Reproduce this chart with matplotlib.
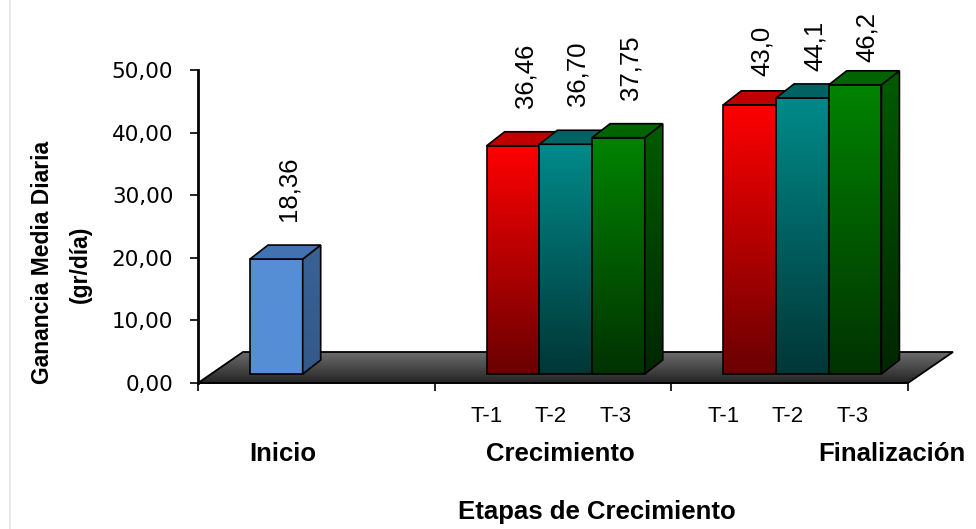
import numpy as np
import matplotlib
matplotlib.use("Agg")
import matplotlib.pyplot as plt
from matplotlib.patches import Polygon
from matplotlib.colors import LinearSegmentedColormap
from matplotlib.lines import Line2D

# ---------------- data ----------------
stages = ["Inicio", "Crecimiento", "Finalización"]
treatments = ["T-1", "T-2", "T-3"]
inicio_values = [18.36]
crecimiento_values = [36.46, 36.70, 37.75]
finalizacion_values = [43.0, 44.1, 46.2]
inicio_labels = ["18,36"]
crecimiento_labels = ["36,46", "36,70", "37,75"]
finalizacion_labels = ["43,0", "44,1", "46,2"]
yticks = [0, 10, 20, 30, 40, 50]
ytick_labels = ["0,00", "10,00", "20,00", "30,00", "40,00", "50,00"]
ylabel_lines = ["Ganancia Media Diaria", "(gr/día)"]
xlabel = "Etapas de Crecimiento"

group_values = [inicio_values, crecimiento_values, finalizacion_values]
group_labels = [inicio_labels, crecimiento_labels, finalizacion_labels]
group_has_ticks = [False, True, True]

# ---------------- style ----------------
plt.rcParams['font.family'] = ['Liberation Sans', 'DejaVu Sans']
W, H, DPI = 976, 529, 100
fig = plt.figure(figsize=(W / DPI, H / DPI), dpi=DPI)
fig.patch.set_facecolor('white')

ax_left, ax_right, ax_bottom, ax_top = 198, 908, 383, 70   # pixel frame
ax = fig.add_axes([ax_left / W, (H - ax_bottom) / H,
                   (ax_right - ax_left) / W, (ax_bottom - ax_top) / H])
ax.set_autoscale_on(False)
ax.set_xlim(0, 3)
ax.set_ylim(0, 50)

px_x = 3 / (ax_right - ax_left)     # data units per pixel in x
px_y = 50 / (ax_bottom - ax_top)    # data units per pixel in y

bar_offset = 52 * px_x
bar_width = 52.7 * px_x
bar_base = 9 * px_y
depth_dx = 18 * px_x
depth_dy = 14 * px_y
floor_dx = 45 * px_x
floor_dy = 31 * px_y

styles = {
    'blue':  dict(front=('#558ED5', '#558ED5'), side=('#3A6294', '#34588A'), top='#4272B0'),
    'red':   dict(front=('#FF0000', '#6A0000'), side=('#B00000', '#400000'), top='#C00000'),
    'teal':  dict(front=('#008A8A', '#003636'), side=('#005858', '#002020'), top='#006262'),
    'green': dict(front=('#008400', '#003200'), side=('#005C00', '#002600'), top='#006400'),
}
series_styles = [['blue'], ['red', 'teal', 'green'], ['red', 'teal', 'green']]

grad = np.linspace(0, 1, 256).reshape(-1, 1)


def gradient_fill(patch, c_top, c_bot, x0, x1, y0, y1, z):
    cmap = LinearSegmentedColormap.from_list('g', [c_bot, c_top])
    img = ax.imshow(grad, cmap=cmap, extent=[x0, x1, y0, y1], origin='lower',
                    aspect='auto', zorder=z, interpolation='bilinear')
    img.set_clip_box(fig.bbox)
    img.set_clip_path(patch)
    return img


z = 2.0
# floor
floor_pts = [(0, 0), (3, 0), (3 + floor_dx, floor_dy), (floor_dx, floor_dy)]
floor = Polygon(floor_pts, closed=True, facecolor='none', edgecolor='black',
                lw=1.3, zorder=z + 0.1, clip_on=False)
ax.add_patch(floor)
gradient_fill(floor, '#6C6C6C', '#242424', 0, 3 + floor_dx, 0, floor_dy, z)
z += 1

# bars
for g, (vals, labs, sty) in enumerate(zip(group_values, group_labels, series_styles)):
    for i, (v, lab, s) in enumerate(zip(vals, labs, sty)):
        st = styles[s]
        x0 = g + bar_offset + i * bar_width
        x1 = x0 + bar_width
        y0 = bar_base
        bars = ax.bar([x0], [v], width=bar_width, bottom=y0, align='edge',
                      facecolor='none', edgecolor='black', lw=1.2,
                      zorder=z + 0.1, clip_on=False)
        front = bars.patches[0]
        gradient_fill(front, st['front'][0], st['front'][1], x0, x1, y0, y0 + v, z)
        y1 = y0 + v
        # side face
        side = Polygon([(x1, y0), (x1 + depth_dx, y0 + depth_dy),
                        (x1 + depth_dx, y1 + depth_dy), (x1, y1)],
                       closed=True, facecolor='none', edgecolor='black', lw=1.2,
                       zorder=z + 0.3, clip_on=False)
        ax.add_patch(side)
        gradient_fill(side, st['side'][0], st['side'][1], x1, x1 + depth_dx,
                      y0, y1 + depth_dy, z + 0.2)
        # top face
        top = Polygon([(x0, y1), (x1, y1), (x1 + depth_dx, y1 + depth_dy),
                       (x0 + depth_dx, y1 + depth_dy)],
                      closed=True, facecolor=st['top'], edgecolor='black', lw=1.2,
                      zorder=z + 0.4, clip_on=False)
        ax.add_patch(top)
        z += 1
        # value label
        ylab = v + 7.5 - max(0.0, v - 38) * 0.3
        ax.text(x0 + bar_width / 2 + 12 * px_x, ylab, lab, rotation=90,
                ha='center', va='bottom', fontsize=18.5, color='black',
                zorder=50, clip_on=False)

# treatment tick labels
t_offsets = [0.22, 0.49, 0.765]
for g, has in enumerate(group_has_ticks):
    if has:
        for off, t in zip(t_offsets, treatments):
            ax.text(g + off, -5.3, t, ha='center', va='center', fontsize=16,
                    clip_on=False)

# stage labels
stage_x = [0.36, 1.53, 2.93]
for sx, s in zip(stage_x, stages):
    ax.text(sx, -11.3, s, ha='center', va='center', fontsize=18.5,
            fontweight='bold', clip_on=False)

ax.text(1.686, -20.6, xlabel, ha='center', va='center', fontsize=18.5,
        fontweight='bold', clip_on=False)

# y label (two lines)
fig.text(43 / W, 1 - 262 / H, ylabel_lines[0], rotation=90, ha='center',
         va='center', fontsize=16.5, fontweight='bold')
fig.text(80 / W, 1 - 264 / H, ylabel_lines[1], rotation=90, ha='center',
         va='center', fontsize=16.5, fontweight='bold')

# axes styling
for side_name in ['top', 'right']:
    ax.spines[side_name].set_visible(False)
ax.spines['left'].set_linewidth(2.0)
ax.spines['left'].set_zorder(40)
ax.spines['bottom'].set_linewidth(1.3)
ax.spines['bottom'].set_zorder(40)
ax.set_yticks(yticks)
ax.set_yticklabels(ytick_labels, fontfamily='DejaVu Sans', fontsize=15.5)
ax.tick_params(axis='y', direction='out', length=5.8, width=1.2, pad=12)
ax.set_xticks([0, 1, 2, 3])
ax.set_xticklabels([])
ax.tick_params(axis='x', direction='out', length=6, width=1.2)
ax.patch.set_alpha(0)

# faint left border line
fig.add_artist(Line2D([10 / W, 10 / W], [0, 1], color='#E4E4E4', lw=1.2))

fig.savefig('out.png', dpi=DPI, facecolor='white')
